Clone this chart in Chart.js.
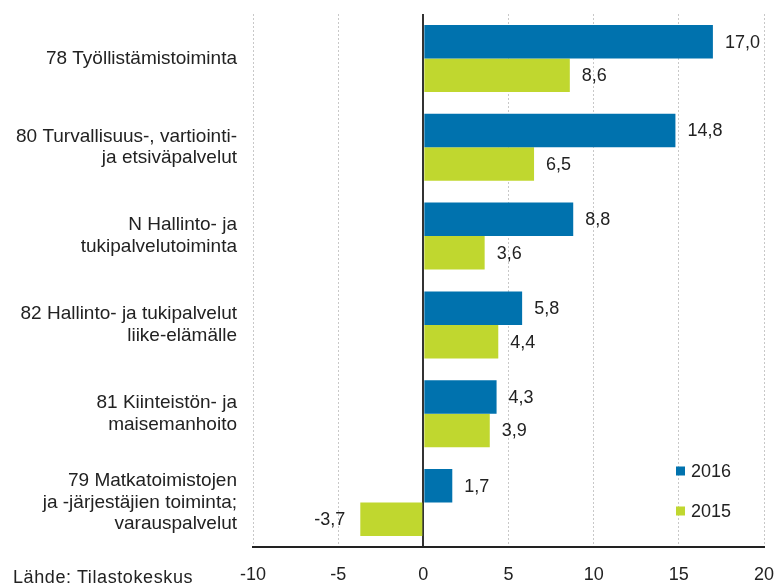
<!DOCTYPE html>
<html>
<head>
<meta charset="utf-8">
<script src="https://cdn.jsdelivr.net/npm/chart.js@4/dist/chart.umd.min.js"></script>
<style>
  html, body { margin: 0; padding: 0; background: #fff; }
  #wrap { position: relative; width: 781px; height: 588px; }
  #source { position: absolute; left: 13px; top: 567px; font: 18px "Liberation Sans", Arial, sans-serif; letter-spacing: 0.6px; color: #222; }
</style>
</head>
<body>
<div id="wrap">
  <canvas id="chart" width="781" height="588"></canvas>
  <div id="source">Lähde: Tilastokeskus</div>
</div>
<script>
// chart data
var categories = [
    ['78 Työllistämistoiminta'],
    ['80 Turvallisuus-, vartiointi-', 'ja etsiväpalvelut'],
    ['N Hallinto- ja', 'tukipalvelutoiminta'],
    ['82 Hallinto- ja tukipalvelut', 'liike-elämälle'],
    ['81 Kiinteistön- ja', 'maisemanhoito'],
    ['79 Matkatoimistojen', 'ja -järjestäjien toiminta;', 'varauspalvelut']
];
var seriesNames = ['2016', '2015'];
var values2016 = [17.0, 14.8, 8.8, 5.8, 4.3, 1.7];
var values2015 = [8.6, 6.5, 3.6, 4.4, 3.9, -3.7];
var xTicks = [-10, -5, 0, 5, 10, 15, 20];

var BLUE = '#0072ae';
var GREEN = '#c0d72f';
var FONT = '"Liberation Sans", Arial, sans-serif';

function fmt(v) { return v.toFixed(1).replace('.', ','); }

// value labels next to bar ends
var valueLabels = {
    id: 'valueLabels',
    afterDatasetsDraw: function(chart) {
        var ctx = chart.ctx;
        ctx.save();
        ctx.font = '18px ' + FONT;
        ctx.fillStyle = '#222';
        ctx.textBaseline = 'middle';
        chart.data.datasets.forEach(function(ds, di) {
            chart.getDatasetMeta(di).data.forEach(function(bar, i) {
                var v = ds.data[i];
                if (v >= 0) { ctx.textAlign = 'left'; ctx.fillText(fmt(v), bar.x + 12, bar.y + 1); }
                else { ctx.textAlign = 'right'; ctx.fillText(fmt(v), bar.x - 15, bar.y + 1); }
            });
        });
        ctx.restore();
    }
};

// legend inside the plot, bottom right
var innerLegend = {
    id: 'innerLegend',
    afterDraw: function(chart) {
        var ctx = chart.ctx, a = chart.chartArea;
        ctx.save();
        ctx.font = '18px ' + FONT;
        ctx.textBaseline = 'middle';
        ctx.textAlign = 'left';
        var offs = [76, 36];
        chart.data.datasets.forEach(function(ds, i) {
            var x = a.right - 88, y = a.bottom - offs[i];
            ctx.fillStyle = ds.backgroundColor;
            ctx.fillRect(x, y - 4.5, 9, 9);
            ctx.fillStyle = '#222';
            ctx.fillText(ds.label, x + 15, y + 1);
        });
        ctx.restore();
    }
};

var canvas = document.getElementById('chart');
canvas.getContext('2d').letterSpacing = '0.5px';

new Chart(canvas, {
    type: 'bar',
    data: {
        labels: categories,
        datasets: [
            { label: seriesNames[0], data: values2016, backgroundColor: BLUE, borderWidth: 0 },
            { label: seriesNames[1], data: values2015, backgroundColor: GREEN, borderWidth: 0 }
        ]
    },
    options: {
        indexAxis: 'y',
        responsive: false,
        animation: false,
        layout: { padding: { top: 14, right: 17, left: 0, bottom: 0 } },
        categoryPercentage: 0.755,
        barPercentage: 1,
        plugins: { legend: { display: false }, tooltip: { enabled: false } },
        scales: {
            x: {
                min: -10, max: 20,
                afterBuildTicks: function(s) { s.ticks = xTicks.map(function(v) { return { value: v }; }); },
                afterFit: function(s) { s.height = 41; s.paddingLeft = 0; s.paddingRight = 0; },
                ticks: { color: '#222', font: { family: FONT, size: 18 }, padding: 17 },
                grid: {
                    drawTicks: false,
                    color: function(c) { return c.tick && c.tick.value === 0 ? '#333' : '#c8c8c8'; },
                    lineWidth: function(c) { return c.tick && c.tick.value === 0 ? 2 : 1; }
                },
                border: {
                    display: true, color: '#222', width: 2,
                    dash: function(c) { return c.tick && c.tick.value === 0 ? [] : [2, 2]; }
                }
            },
            y: {
                afterFit: function(s) { s.width = 253; s.paddingTop = 0; s.paddingBottom = 0; },
                ticks: { color: '#222', font: { family: FONT, size: 19, lineHeight: 1.14 }, padding: 16 },
                grid: { display: false, drawTicks: false },
                border: { display: false }
            }
        }
    },
    plugins: [valueLabels, innerLegend]
});
</script>
</body>
</html>
